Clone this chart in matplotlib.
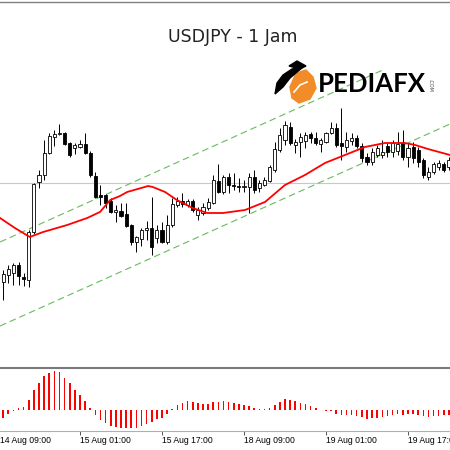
import matplotlib
matplotlib.use("Agg")
import matplotlib.pyplot as plt
from matplotlib.patches import Polygon
from matplotlib.lines import Line2D
import numpy as np

# hourly candles, index 0 = 14 Aug 09:00
idx = list(range(1, 89))
opens = [146.51, 146.58, 146.60, 146.68, 146.56, 146.53, 147.01, 147.51, 147.58, 147.80,
         147.96, 147.99, 148.00, 147.90, 147.85, 147.86, 147.89, 147.80, 147.57, 147.38,
         147.38, 147.32, 147.21, 147.22, 147.19, 147.08, 146.91, 146.94, 147.03, 147.05,
         146.95, 147.03, 146.91, 147.08, 147.28, 147.32, 147.28, 147.32, 147.18, 147.20,
         147.25, 147.30, 147.52, 147.41, 147.56, 147.48, 147.47, 147.46, 147.46, 147.56,
         147.45, 147.48, 147.52, 147.63, 147.83, 147.93, 148.06, 147.88, 147.91, 147.92,
         147.99, 147.95, 147.89, 147.91, 148.00, 148.05, 147.90, 147.86, 147.92, 147.95,
         147.87, 147.76, 147.71, 147.78, 147.78, 147.87, 147.81, 147.82, 147.90, 147.76,
         147.86, 147.83, 147.73, 147.56, 147.61, 147.66, 147.69, 147.66]
highs = [146.63, 146.68, 146.70, 146.71, 146.60, 147.03, 147.50, 147.63, 147.93, 148.00,
         148.03, 148.09, 148.01, 147.91, 147.90, 147.93, 148.00, 147.82, 147.61, 147.48,
         147.39, 147.35, 147.28, 147.30, 147.30, 147.09, 146.97, 147.05, 147.12, 147.36,
         147.08, 147.11, 147.18, 147.35, 147.36, 147.40, 147.34, 147.34, 147.26, 147.30,
         147.35, 147.58, 147.69, 147.58, 147.60, 147.60, 147.55, 147.53, 147.60, 147.63,
         147.53, 147.56, 147.68, 147.91, 148.05, 148.12, 148.11, 147.94, 148.00, 148.01,
         148.01, 148.01, 147.95, 148.01, 148.11, 148.10, 148.25, 148.01, 148.00, 147.98,
         147.90, 147.80, 147.85, 147.88, 147.93, 147.90, 147.93, 148.01, 148.03, 147.90,
         147.91, 147.86, 147.75, 147.66, 147.71, 147.73, 147.71, 147.76]
lows = [146.33, 146.50, 146.48, 146.48, 146.47, 146.46, 146.99, 147.45, 147.53, 147.79,
        147.87, 147.98, 147.88, 147.76, 147.79, 147.85, 147.79, 147.56, 147.35, 147.28,
        147.25, 147.20, 147.11, 147.16, 147.06, 146.88, 146.81, 146.87, 146.93, 146.78,
        146.90, 146.90, 146.89, 147.06, 147.26, 147.26, 147.26, 147.21, 147.13, 147.18,
        147.23, 147.29, 147.40, 147.39, 147.40, 147.43, 147.41, 147.41, 147.20, 147.40,
        147.41, 147.47, 147.51, 147.61, 147.81, 147.88, 147.88, 147.80, 147.76, 147.85,
        147.90, 147.88, 147.81, 147.90, 147.99, 147.86, 147.73, 147.81, 147.88, 147.85,
        147.71, 147.68, 147.68, 147.76, 147.75, 147.76, 147.76, 147.78, 147.73, 147.66,
        147.70, 147.66, 147.55, 147.53, 147.59, 147.63, 147.61, 147.63]
closes = [146.59, 146.64, 146.68, 146.57, 146.54, 147.01, 147.49, 147.58, 147.80, 147.97,
          147.99, 148.00, 147.89, 147.78, 147.88, 147.89, 147.80, 147.58, 147.36, 147.36,
          147.30, 147.21, 147.23, 147.17, 147.07, 146.91, 146.96, 147.03, 147.05, 146.86,
          147.03, 146.91, 147.08, 147.29, 147.32, 147.29, 147.32, 147.23, 147.23, 147.26,
          147.31, 147.53, 147.41, 147.56, 147.48, 147.47, 147.46, 147.47, 147.56, 147.43,
          147.50, 147.53, 147.66, 147.84, 147.98, 148.08, 147.90, 147.91, 147.96, 147.98,
          147.95, 147.90, 147.93, 148.00, 148.05, 147.88, 147.87, 147.93, 147.95, 147.87,
          147.75, 147.71, 147.81, 147.85, 147.81, 147.81, 147.90, 147.89, 147.76, 147.85,
          147.75, 147.71, 147.58, 147.61, 147.69, 147.70, 147.63, 147.73]

# red moving average
ma_x = [0.4, 3.3, 6.2, 8.8, 13.5, 17.4, 19.9, 21.9, 23.8, 25.2, 29.3, 30.2, 32.6, 34.9, 38.0,
        40.8, 43.9, 48.2, 52.1, 56.0, 59.9, 63.8, 67.7, 71.6, 75.5, 79.4, 81.4, 83.9, 88.2]
ma_y = [147.15, 147.05, 146.96, 147.01, 147.08, 147.15, 147.21, 147.33, 147.37, 147.41, 147.47,
        147.46, 147.41, 147.33, 147.25, 147.20, 147.20, 147.23, 147.31, 147.48, 147.58, 147.70,
        147.78, 147.86, 147.90, 147.90, 147.88, 147.84, 147.78]

# channel lines (two anchor points each)
upper_x = [0.4, 75.1]
upper_y = [146.91, 148.63]
lower_x = [0.4, 88.2]
lower_y = [146.07, 148.09]
level = 147.50

# lower indicator histogram
osma = [-0.08, -0.04, -0.005, 0.025, 0.035, 0.10, 0.20, 0.27, 0.34, 0.37,
        0.39, 0.38, 0.32, 0.27, 0.20, 0.15, 0.09, 0.025, -0.045, -0.10,
        -0.13, -0.16, -0.17, -0.175, -0.18, -0.18, -0.175, -0.16, -0.14, -0.115,
        -0.09, -0.075, -0.04, 0.015, 0.05, 0.07, 0.09, 0.085, 0.075, 0.065,
        0.06, 0.08, 0.085, 0.09, 0.085, 0.075, 0.065, 0.05, 0.045, 0.025,
        0.015, 0.007, 0.025, 0.05, 0.08, 0.11, 0.10, 0.09, 0.075, 0.06,
        0.04, 0.017, -0.003, -0.005, -0.01, -0.035, -0.045, -0.05, -0.05, -0.06,
        -0.07, -0.085, -0.08, -0.075, -0.065, -0.06, -0.05, -0.04, -0.045, -0.04,
        -0.035, -0.05, -0.06, -0.065, -0.06, -0.055, -0.05, -0.05]

tick_idx = [0, 16, 32, 48, 64, 80]
tick_labels = ["14 Aug 09:00", "15 Aug 01:00", "15 Aug 17:00",
               "18 Aug 09:00", "19 Aug 01:00", "19 Aug 17:00"]

fig = plt.figure(figsize=(4.5, 4.5), dpi=100)
ax = fig.add_axes([0, 84 / 450, 1, 364 / 450])
ax2 = fig.add_axes([0, 19 / 450, 1, 63 / 450], sharex=ax)

x = np.array(idx)
o = np.array(opens)
c = np.array(closes)
up = c >= o

ax.axhline(level, color="#c8c8c8", lw=0.8, zorder=1)
ax.plot(upper_x, upper_y, color="#66bb5e", lw=0.8, dashes=(6, 3.5), zorder=1)
ax.plot(lower_x, lower_y, color="#66bb5e", lw=0.8, dashes=(6, 3.5), zorder=1)
ax.vlines(x, lows, highs, color="black", lw=0.7, zorder=2)
body = np.maximum(np.abs(c - o), 0.008)
ax.bar(x, body, bottom=np.minimum(o, c), width=0.62,
       color=np.where(up, "white", "black"), edgecolor="black", linewidth=0.6, zorder=3)
ax.plot(ma_x, ma_y, color="#ff0000", lw=1.3, zorder=4)

ax.set_xlim(0.39, 88.2)
ax.set_ylim(149.33 - 366 / 100, 149.33 - 2 / 100)
ax.axis("off")

ax2.bar(x, osma, width=0.3, color="#ff0000", linewidth=0)
ax2.set_ylim(-0.21, 0.42)
ax2.set_yticks([])
for s in ["left", "right"]:
    ax2.spines[s].set_visible(False)
ax2.spines["top"].set_color("#7a7a7a")
ax2.spines["top"].set_linewidth(1.5)
ax2.spines["bottom"].set_color("#b0b0b0")
ax2.spines["bottom"].set_linewidth(0.8)
ax2.set_xticks(tick_idx[1:])
ax2.set_xticklabels([])
ax2.tick_params(axis="x", length=3, width=0.7, color="#555555")
for ti, tl in zip(tick_idx, tick_labels):
    # first label starts at the left edge, the tick itself is off-chart
    tx = max(ti, 0.45)
    ax2.text(tx, -0.15, tl, transform=ax2.get_xaxis_transform(), ha="left", va="center",
             fontsize=6.2, family="Liberation Sans", color="black", clip_on=False)

# top frame line
fig.add_artist(Line2D([0, 1], [1 - 1.5 / 450, 1 - 1.5 / 450], color="#808080", lw=1))

# title and logo
fig.text(233 / 450, 1 - 37 / 450, "USDJPY - 1 Jam", ha="center", va="center",
         fontsize=12.5, color="#222222")

ov = fig.add_axes([0, 0, 1, 1], zorder=10)
ov.set_xlim(0, 450)
ov.set_ylim(450, 0)
ov.axis("off")
ov.patch.set_alpha(0)
ov.add_patch(Polygon([(296, 73), (306, 70), (313, 77), (316, 88), (310, 99), (299, 103),
                      (292, 98), (290, 87)], closed=True, color="#f28c28"))
ov.add_patch(Polygon([(275, 94), (277, 83), (283, 75), (292, 69), (303, 67), (297, 72),
                      (290, 78), (283, 87)], closed=True, color="black"))
ov.add_patch(Polygon([(289, 66), (297, 61), (306, 66), (300, 69)], closed=True, color="black"))
ov.plot([294, 300, 307], [92, 85, 82], color="white", lw=1.2)
ov.text(318, 84, "PEDIAFX", ha="left", va="center", fontsize=18.5, family="Lato",
        weight="bold", color="black")
ov.text(430, 85, ".COM", ha="center", va="center", fontsize=3.5, rotation=-90,
        color="#444444")

fig.savefig("out.png", dpi=100)
